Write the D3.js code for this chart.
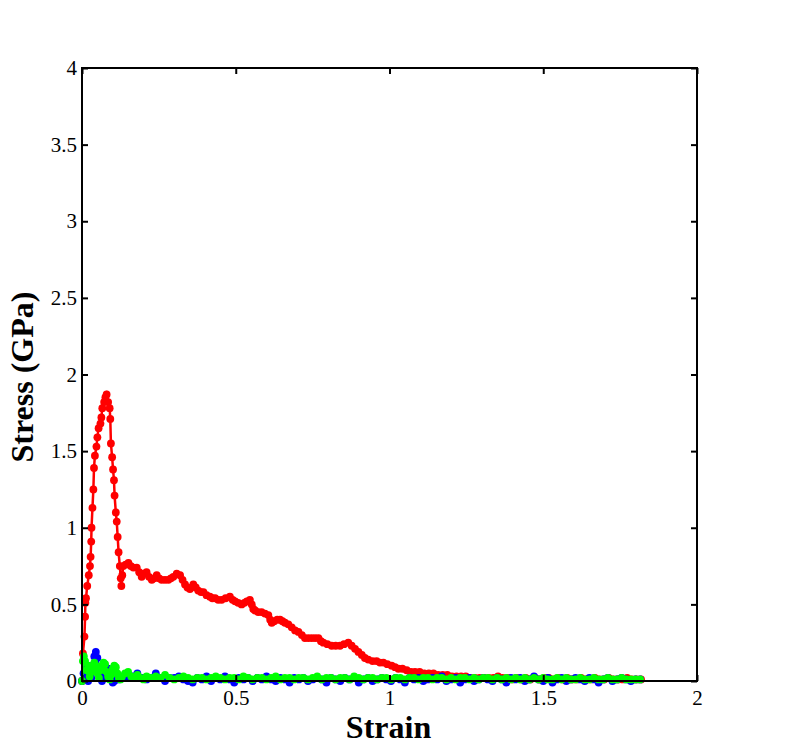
<!DOCTYPE html>
<html>
<head>
<meta charset="utf-8">
<script src="https://cdn.jsdelivr.net/npm/d3@7"></script>
<style>
  html, body { margin: 0; padding: 0; background: #fff; }
  svg { display: block; }
</style>
</head>
<body>
<svg id="chart" width="800" height="749"></svg>
<script>
// ---- data: [strain, stress in GPa] ----
const xTicks = [0, 0.5, 1, 1.5, 2];
const yTicks = [0, 0.5, 1, 1.5, 2, 2.5, 3, 3.5, 4];
const xLabel = "Strain";
const yLabel = "Stress (GPa)";

const redCurve = [[0,0],[0.003,0.18],[0.008,0.29],[0.010,0.42],[0.011,0.51],[0.013,0.54],[0.017,0.62],[0.022,0.69],[0.026,0.75],[0.028,0.81],[0.030,0.91],[0.031,1.00],[0.034,1.13],[0.037,1.25],[0.039,1.39],[0.042,1.47],[0.047,1.53],[0.050,1.59],[0.054,1.65],[0.060,1.68],[0.063,1.72],[0.066,1.78],[0.072,1.82],[0.076,1.85],[0.080,1.87],[0.085,1.82],[0.090,1.78],[0.092,1.71],[0.094,1.55],[0.098,1.46],[0.101,1.38],[0.104,1.31],[0.106,1.21],[0.110,1.10],[0.113,1.04],[0.116,0.94],[0.119,0.84],[0.123,0.75],[0.126,0.67],[0.128,0.62],
[0.131,0.69],[0.134,0.75],[0.142,0.76],[0.151,0.77],[0.159,0.75],[0.167,0.74],[0.178,0.74],[0.186,0.71],[0.194,0.68],[0.202,0.70],[0.210,0.71],[0.218,0.68],[0.227,0.66],[0.235,0.67],[0.243,0.69],[0.251,0.67],[0.259,0.66],[0.270,0.66],[0.281,0.66],[0.289,0.67],[0.297,0.68],[0.308,0.70],[0.319,0.69],[0.327,0.66],[0.335,0.63],[0.343,0.61],[0.351,0.60],[0.362,0.63],[0.370,0.61],[0.378,0.59],[0.387,0.58],[0.395,0.58],[0.405,0.56],[0.416,0.55],[0.424,0.54],[0.433,0.54],[0.443,0.53],[0.454,0.53],[0.467,0.54],[0.481,0.55],[0.490,0.53],[0.498,0.52],[0.508,0.51],[0.519,0.50],[0.528,0.51],[0.536,0.52],[0.546,0.53],[0.552,0.50],[0.557,0.47],[0.563,0.46],[0.573,0.45],[0.584,0.45],[0.595,0.44],[0.606,0.43],[0.612,0.40],[0.617,0.38],[0.625,0.39],[0.635,0.40],[0.644,0.40],[0.652,0.39],[0.660,0.38],[0.671,0.37],[0.682,0.35],[0.693,0.33],[0.704,0.32],[0.715,0.30],[0.725,0.28],[0.736,0.28],[0.747,0.28],[0.758,0.28],[0.769,0.28],[0.777,0.26],[0.785,0.25],[0.798,0.24],[0.812,0.23],[0.825,0.23],[0.839,0.23],[0.852,0.24],[0.866,0.25],[0.877,0.23],[0.888,0.21],[0.899,0.19],[0.910,0.17],[0.920,0.15],[0.931,0.14],[0.945,0.13],[0.958,0.13],[0.969,0.12],[0.980,0.12],[0.993,0.11],[1.007,0.10],[1.018,0.09],[1.029,0.08],[1.042,0.08],[1.056,0.07],[1.070,0.06],[1.083,0.06],[1.098,0.06],[1.113,0.05],[1.128,0.05],[1.143,0.05],[1.158,0.04],[1.173,0.04],[1.188,0.04],[1.203,0.03],[1.218,0.03],[1.233,0.03],[1.248,0.03],[1.263,0.02],[1.278,0.02],[1.293,0.02],[1.308,0.02],[1.323,0.02],[1.338,0.02],[1.353,0.03],[1.368,0.02],[1.383,0.02],[1.398,0.01],[1.413,0.02],[1.428,0.01],[1.443,0.02],[1.458,0.01],[1.473,0.02],[1.488,0.01],[1.503,0.02],[1.518,0.02],[1.533,0.01],[1.548,0.02],[1.563,0.01],[1.578,0.02],[1.593,0.01],[1.608,0.01],[1.623,0.02],[1.638,0.01],[1.653,0.01],[1.668,0.02],[1.683,0.01],[1.698,0.01],[1.713,0.02],[1.728,0.01],[1.743,0.01],[1.758,0.01],[1.773,0.02],[1.788,0.01],[1.803,0.01],[1.818,0.01]];

const blueCurve = [[0,0],[0.005,0.05],[0.010,0.02],[0.015,0.08],[0.020,0.00],[0.025,0.04],[0.030,0.02],[0.035,0.10],[0.040,0.16],[0.045,0.19],[0.050,0.15],[0.055,0.06],[0.060,0.02],[0.065,0.00],[0.070,0.03],[0.075,0.02],[0.080,0.05],[0.085,0.08],[0.090,0.04],[0.095,0.01],[0.100,-0.01],[0.105,0.00],[0.110,0.02],
[0.12,0.01],[0.135,0.03],[0.15,0.02],[0.165,0.03],[0.18,0.05],[0.195,0.02],[0.21,0.01],[0.225,0.02],[0.24,0.05],[0.255,0.02],[0.27,0.00],[0.285,0.02],[0.30,0.02],[0.315,0.03],[0.33,0.01],[0.345,0.00],[0.36,-0.01],[0.375,0.02],[0.39,0.01],[0.405,0.03],[0.42,0.00],[0.435,0.02],[0.45,0.01],[0.465,0.03],[0.48,0.01],[0.495,-0.01],[0.51,0.02],[0.525,0.01],[0.54,0.02],[0.555,0.00],[0.57,0.02],[0.585,0.01],[0.60,0.03],[0.615,0.01],[0.63,0.00],[0.645,0.02],[0.66,0.01],[0.675,-0.01],[0.69,0.02],[0.705,0.01],[0.72,0.02],[0.735,0.00],[0.75,0.01],[0.765,0.02],[0.78,0.01],[0.795,-0.01],[0.81,0.02],[0.825,0.01],[0.84,0.00],[0.855,0.02],[0.87,0.01],[0.885,0.02],[0.90,-0.01],[0.915,0.01],[0.93,0.02],[0.945,0.00],[0.96,0.01],[0.975,0.02],[0.99,0.01],[1.005,0.00],[1.02,0.02],[1.035,0.01],[1.05,-0.01],[1.065,0.02],[1.08,0.01],[1.095,0.02],[1.11,0.00],[1.125,0.01],[1.14,0.02],[1.155,0.01],[1.17,0.03],[1.185,0.00],[1.20,0.01],[1.215,0.02],[1.23,-0.01],[1.245,0.01],[1.26,0.02],[1.275,0.00],[1.29,0.01],[1.305,0.02],[1.32,0.01],[1.335,0.00],[1.35,0.02],[1.365,0.01],[1.38,-0.01],[1.395,0.02],[1.41,0.01],[1.425,0.02],[1.44,0.00],[1.455,0.01],[1.47,0.03],[1.485,0.01],[1.50,0.00],[1.515,0.02],[1.53,-0.01],[1.545,0.01],[1.56,0.02],[1.575,0.00],[1.59,0.01],[1.605,0.02],[1.62,0.01],[1.635,0.00],[1.65,0.02],[1.665,0.01],[1.68,-0.01],[1.695,0.01],[1.71,0.02],[1.725,0.00],[1.74,0.01],[1.755,0.02],[1.77,0.01],[1.785,0.00],[1.80,0.01],[1.815,0.01]];

const greenCurve = [[0,0],[0.003,0.13],[0.006,0.16],[0.010,0.13],[0.015,0.07],[0.020,0.10],[0.025,0.03],[0.030,0.06],[0.035,0.09],[0.040,0.12],[0.045,0.10],[0.050,0.05],[0.055,0.02],[0.060,0.07],[0.065,0.10],[0.070,0.12],[0.075,0.11],[0.080,0.06],[0.085,0.03],[0.090,0.01],[0.095,0.04],[0.100,0.08],[0.105,0.10],[0.110,0.09],[0.115,0.05],[0.120,0.02],[0.125,0.01],[0.13,0.03],[0.14,0.05],[0.15,0.06],[0.16,0.03],[0.17,0.02],[0.18,0.04],[0.19,0.02],[0.20,0.01],[0.21,0.03],
[0.225,0.02],[0.24,0.03],[0.255,0.02],[0.27,0.04],[0.285,0.02],[0.30,0.01],[0.315,0.02],[0.33,0.03],[0.345,0.02],[0.36,0.01],[0.375,0.02],[0.39,0.02],[0.405,0.01],[0.42,0.02],[0.435,0.03],[0.45,0.02],[0.465,0.01],[0.48,0.02],[0.495,0.02],[0.51,0.01],[0.525,0.03],[0.54,0.02],[0.555,0.01],[0.57,0.02],[0.585,0.02],[0.60,0.01],[0.615,0.02],[0.63,0.03],[0.645,0.01],[0.66,0.02],[0.675,0.02],[0.69,0.01],[0.705,0.02],[0.72,0.02],[0.735,0.01],[0.75,0.02],[0.765,0.03],[0.78,0.01],[0.795,0.02],[0.81,0.02],[0.825,0.01],[0.84,0.02],[0.855,0.02],[0.87,0.01],[0.885,0.03],[0.90,0.02],[0.915,0.01],[0.93,0.02],[0.945,0.02],[0.96,0.01],[0.975,0.02],[0.99,0.02],[1.005,0.01],[1.02,0.02],[1.035,0.02],[1.05,0.01],[1.065,0.02],[1.08,0.02],[1.095,0.01],[1.11,0.02],[1.125,0.02],[1.14,0.01],[1.155,0.02],[1.17,0.02],[1.185,0.01],[1.20,0.02],[1.215,0.01],[1.23,0.02],[1.245,0.02],[1.26,0.01],[1.275,0.02],[1.29,0.01],[1.305,0.02],[1.32,0.02],[1.335,0.01],[1.35,0.02],[1.365,0.01],[1.38,0.02],[1.395,0.01],[1.41,0.02],[1.425,0.01],[1.44,0.02],[1.455,0.01],[1.47,0.02],[1.485,0.01],[1.50,0.02],[1.515,0.01],[1.53,0.01],[1.545,0.02],[1.56,0.01],[1.575,0.02],[1.59,0.01],[1.605,0.01],[1.62,0.02],[1.635,0.01],[1.65,0.01],[1.665,0.02],[1.68,0.01],[1.695,0.01],[1.71,0.02],[1.725,0.01],[1.74,0.01],[1.755,0.02],[1.77,0.01],[1.785,0.01],[1.80,0.01],[1.815,0.01]];

const seriesColors = ["#ff0000", "#0000ff", "#00ff00"];

// ---- layout ----
const svg = d3.select("#chart");
const L = 82, R = 697, T = 68, B = 681;
const x = d3.scaleLinear().domain([0, 2]).range([L, R]);
const y = d3.scaleLinear().domain([0, 4]).range([B, T]);

const series = [redCurve, blueCurve, greenCurve];
const line = d3.line().x(d => x(d[0])).y(d => y(d[1]));

series.forEach((data, k) => {
  const g = svg.append("g");
  g.append("path").datum(data)
    .attr("d", line)
    .attr("fill", "none")
    .attr("stroke", seriesColors[k])
    .attr("stroke-width", 2.5);
  g.selectAll("circle").data(data).join("circle")
    .attr("cx", d => x(d[0]))
    .attr("cy", d => y(d[1]))
    .attr("r", 3.9)
    .attr("fill", seriesColors[k]);
});

// ---- axes ----
const font = "'Liberation Serif', 'Times New Roman', serif";
const fmt = d3.format("");

const ax = svg.append("g").attr("transform", `translate(0,${B})`)
  .call(d3.axisBottom(x).tickValues(xTicks).tickSize(-6).tickPadding(9).tickFormat(fmt));
const ay = svg.append("g").attr("transform", `translate(${L},0)`)
  .call(d3.axisLeft(y).tickValues(yTicks).tickSize(-6).tickPadding(5).tickFormat(fmt));
const axT = svg.append("g").attr("transform", `translate(0,${T})`)
  .call(d3.axisTop(x).tickValues(xTicks).tickSize(-6).tickFormat(""));
const ayR = svg.append("g").attr("transform", `translate(${R},0)`)
  .call(d3.axisRight(y).tickValues(yTicks).tickSize(-6).tickFormat(""));

[ax, ay, axT, ayR].forEach(a => {
  a.select(".domain").remove();
  a.selectAll(".tick line").attr("stroke", "#000").attr("stroke-width", 2);
  a.selectAll(".tick text").attr("fill", "#000")
    .style("font-family", font).style("font-size", "21px");
});

svg.append("rect")
  .attr("x", L).attr("y", T)
  .attr("width", R - L).attr("height", B - T)
  .attr("fill", "none").attr("stroke", "#000").attr("stroke-width", 2);

svg.append("text")
  .attr("x", (L + R) / 2 - 1).attr("y", 738)
  .attr("text-anchor", "middle")
  .style("font-family", font).style("font-weight", "bold").style("font-size", "32px")
  .text(xLabel);

svg.append("text")
  .attr("transform", "translate(33,377) rotate(-90)")
  .attr("text-anchor", "middle")
  .style("font-family", font).style("font-weight", "bold").style("font-size", "32px")
  .text(yLabel);
</script>
</body>
</html>
